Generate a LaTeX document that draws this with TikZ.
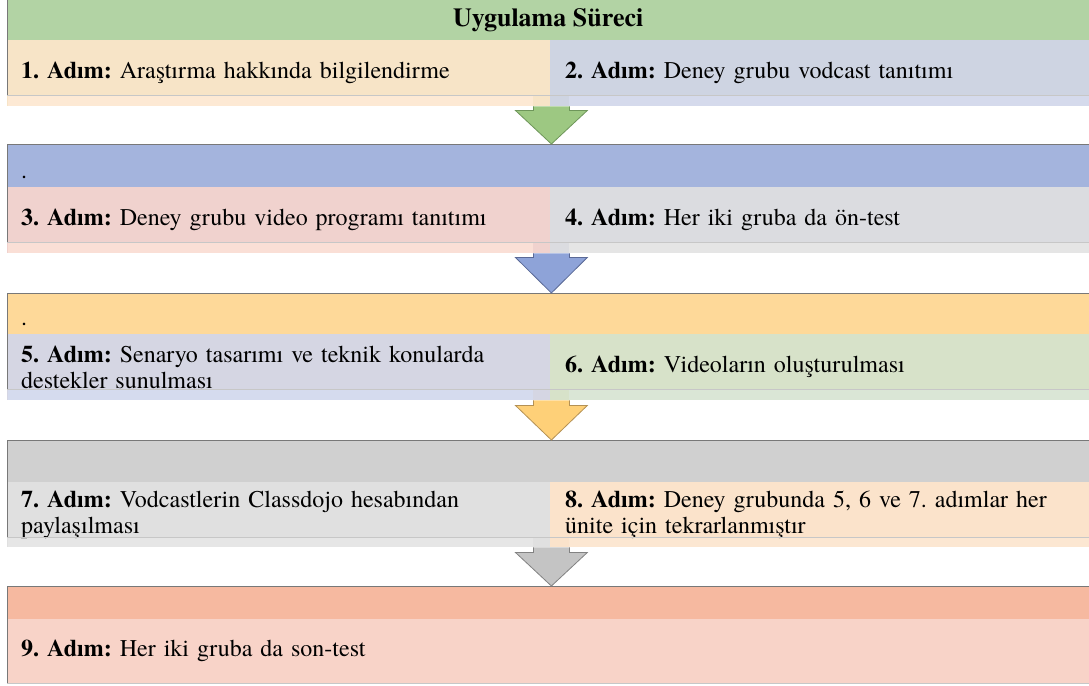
\documentclass[tikz,border=0pt]{standalone}
\usepackage{fontspec}
\setmainfont{texgyretermes}[Extension=.otf, UprightFont=*-regular, BoldFont=*-bold,
  ItalicFont=*-italic, BoldItalicFont=*-bolditalic]
\usetikzlibrary{calc,backgrounds}

\newlength{\du}
\setlength{\du}{1pt}

\definecolor{headgreen}{rgb}{0.698000, 0.827000, 0.643000}
\definecolor{arrowgreen}{rgb}{0.616000, 0.784000, 0.510000}
\definecolor{arrowgreenline}{rgb}{0.431000, 0.588000, 0.353000}
\definecolor{cellone}{rgb}{0.969000, 0.894000, 0.780000}
\definecolor{stripone}{rgb}{0.992000, 0.914000, 0.831000}
\definecolor{celltwo}{rgb}{0.808000, 0.831000, 0.886000}
\definecolor{striptwo}{rgb}{0.835000, 0.855000, 0.925000}
\definecolor{barblue}{rgb}{0.643000, 0.706000, 0.867000}
\definecolor{arrowblue}{rgb}{0.557000, 0.639000, 0.847000}
\definecolor{arrowblueline}{rgb}{0.353000, 0.412000, 0.588000}
\definecolor{cellthree}{rgb}{0.941000, 0.824000, 0.808000}
\definecolor{stripthree}{rgb}{0.980000, 0.875000, 0.839000}
\definecolor{cellfour}{rgb}{0.859000, 0.863000, 0.878000}
\definecolor{stripfour}{rgb}{0.898000, 0.898000, 0.898000}
\definecolor{baryellow}{rgb}{0.996000, 0.851000, 0.600000}
\definecolor{arrowyellow}{rgb}{0.996000, 0.816000, 0.471000}
\definecolor{arrowyellowline}{rgb}{0.706000, 0.569000, 0.333000}
\definecolor{cellfive}{rgb}{0.835000, 0.839000, 0.890000}
\definecolor{stripfive}{rgb}{0.835000, 0.859000, 0.933000}
\definecolor{cellsix}{rgb}{0.843000, 0.886000, 0.788000}
\definecolor{stripsix}{rgb}{0.855000, 0.902000, 0.839000}
\definecolor{bargray}{rgb}{0.816000, 0.816000, 0.816000}
\definecolor{arrowgray}{rgb}{0.769000, 0.769000, 0.769000}
\definecolor{arrowgrayline}{rgb}{0.510000, 0.510000, 0.510000}
\definecolor{cellseven}{rgb}{0.878000, 0.878000, 0.878000}
\definecolor{stripseven}{rgb}{0.902000, 0.902000, 0.902000}
\definecolor{celleight}{rgb}{0.984000, 0.890000, 0.796000}
\definecolor{stripeight}{rgb}{0.988000, 0.906000, 0.824000}
\definecolor{barsalmon}{rgb}{0.965000, 0.725000, 0.627000}
\definecolor{cellnine}{rgb}{0.973000, 0.827000, 0.784000}
\definecolor{framegray}{rgb}{0.471000, 0.471000, 0.471000}
\definecolor{edgegray}{rgb}{0.780000, 0.780000, 0.780000}

\frenchspacing
\begin{document}
\begin{tikzpicture}[
  font=\fontsize{24}{25.5}\selectfont,
  barbox/.style={rectangle, anchor=north west, inner sep=0pt, minimum width=1082\du},
  leftbox/.style={rectangle, anchor=north west, inner xsep=14\du, inner ysep=0pt,
    text width=515\du, minimum height=66\du, align=left},
  rightbox/.style={rectangle, anchor=north west, inner xsep=15\du, inner ysep=0pt,
    text width=509\du, minimum height=66\du, align=left},
  bandframe/.style={draw=framegray, line width=1\du},
  blockarrow/.style={line width=0.8\du, line join=miter}
]
\pgftransformxscale{1.000000}
\pgftransformyscale{-1.000000}
\useasboundingbox (0\du,0\du) rectangle (1089\du,685\du);

% band 1
\node[barbox, fill=headgreen, minimum height=40\du, font=\fontsize{26}{27}\selectfont] (bar1) at (7\du,0\du) {\textbf{Uygulama Süreci}};
\node[leftbox] (adim1) at (7\du,40\du) {\textbf{1. Adım:} Araştırma hakkında bilgilendirme};
\node[rightbox] (adim2) at (550\du,40\du) {\textbf{2. Adım:} Deney grubu vodcast tanıtımı};
\draw[bandframe] ($(adim1.south west)+(0,-11\du)$) -- (bar1.north west) -- ++(1083\du,0);
\draw[edgegray] (adim1.south west) ++(0,-11\du) -- ++(1083\du,0);

% band 2
\node[barbox, fill=barblue, minimum height=43\du] (bar2) at (7\du,144\du) {};
\node[anchor=base west, inner sep=0pt] (nokta2) at (21\du,178\du) {.};
\node[leftbox] (adim3) at (7\du,187\du) {\textbf{3. Adım:} Deney grubu video programı tanıtımı};
\node[rightbox] (adim4) at (550\du,187\du) {\textbf{4. Adım:} Her iki gruba da ön-test};
\draw[bandframe] ($(adim3.south west)+(0,-11\du)$) -- (bar2.north west) -- ++(1083\du,0);
\draw[edgegray] (adim3.south west) ++(0,-11\du) -- ++(1083\du,0);

% band 3
\node[barbox, fill=baryellow, minimum height=41\du] (bar3) at (7\du,293\du) {};
\node[anchor=base west, inner sep=0pt] (nokta3) at (21\du,325\du) {.};
\node[leftbox] (adim5) at (7\du,334\du) {\textbf{5. Adım:} Senaryo tasarımı ve teknik konularda\\destekler sunulması};
\node[rightbox] (adim6) at (550\du,334\du) {\textbf{6. Adım:} Videoların oluşturulması};
\draw[bandframe] ($(adim5.south west)+(0,-11\du)$) -- (bar3.north west) -- ++(1083\du,0);
\draw[edgegray] (adim5.south west) ++(0,-11\du) -- ++(1083\du,0);

% band 4
\node[barbox, fill=bargray, minimum height=42\du] (bar4) at (7\du,440\du) {};
\node[leftbox, minimum height=65\du] (adim7) at (7\du,482\du) {\textbf{7. Adım:} Vodcastlerin Classdojo hesabından\\paylaşılması};
\node[rightbox, minimum height=65\du] (adim8) at (550\du,482\du) {\textbf{8. Adım:} Deney grubunda 5, 6 ve 7. adımlar her\\ünite için tekrarlanmıştır};
\draw[bandframe] ($(adim7.south west)+(0,-10\du)$) -- (bar4.north west) -- ++(1083\du,0);
\draw[edgegray] (adim7.south west) ++(0,-10\du) -- ++(1083\du,0);

% band 5
\node[barbox, fill=barsalmon, minimum height=33\du] (bar5) at (7\du,586\du) {};
\node[leftbox, text width=1054\du, minimum height=64\du] (adim9) at (7\du,619\du) {\textbf{9. Adım:} Her iki gruba da son-test};
\draw[bandframe] (adim9.south west) -- (bar5.north west) -- ++(1083\du,0);
\draw[edgegray] (adim9.south west) -- ++(1083\du,0);

\begin{pgfonlayer}{background}
\fill[cellone] (adim1.north west) rectangle (adim1.south east);
\fill[celltwo] (adim2.north west) rectangle (adim2.south east);
\fill[stripone] ($(adim1.south west)+(1\du,-11\du)$) rectangle ($(adim1.south east)+(-17\du,0)$);
\fill[striptwo] ($(adim2.south west)+(19\du,-11\du)$) rectangle (adim2.south east);
\fill[cellthree] (adim3.north west) rectangle (adim3.south east);
\fill[cellfour] (adim4.north west) rectangle (adim4.south east);
\fill[stripthree] ($(adim3.south west)+(1\du,-11\du)$) rectangle ($(adim3.south east)+(-17\du,0)$);
\fill[stripfour] ($(adim4.south west)+(19\du,-11\du)$) rectangle (adim4.south east);
\fill[cellfive] (adim5.north west) rectangle (adim5.south east);
\fill[cellsix] (adim6.north west) rectangle (adim6.south east);
\fill[stripfive] ($(adim5.south west)+(1\du,-11\du)$) rectangle ($(adim5.south east)+(-17\du,0)$);
\fill[stripsix] ($(adim6.south west)+(19\du,-11\du)$) rectangle (adim6.south east);
\fill[cellseven] (adim7.north west) rectangle (adim7.south east);
\fill[celleight] (adim8.north west) rectangle (adim8.south east);
\fill[stripseven] ($(adim7.south west)+(1\du,-10\du)$) rectangle ($(adim7.south east)+(-17\du,0)$);
\fill[stripeight] ($(adim8.south west)+(19\du,-10\du)$) rectangle (adim8.south east);
\fill[cellnine] (adim9.north west) rectangle (adim9.south east);
\end{pgfonlayer}

% arrows
\filldraw[blockarrow, fill=arrowgreen, draw=arrowgreenline]
  ($(adim1.south east)+(-17\du,0)$) -- ($(adim1.south east)+(-17\du,4\du)$)
  -- ($(adim1.south east)+(-35\du,4\du)$) -- ($(adim1.south east |- bar2.north)+(1\du,0)$)
  -- ($(adim1.south east)+(37\du,4\du)$) -- ($(adim1.south east)+(19\du,4\du)$)
  -- ($(adim1.south east)+(19\du,0)$);
\filldraw[blockarrow, fill=arrowblue, draw=arrowblueline]
  ($(adim3.south east)+(-17\du,0)$) -- ($(adim3.south east)+(-17\du,4\du)$)
  -- ($(adim3.south east)+(-35\du,4\du)$) -- ($(adim3.south east |- bar3.north)+(1\du,0)$)
  -- ($(adim3.south east)+(37\du,4\du)$) -- ($(adim3.south east)+(19\du,4\du)$)
  -- ($(adim3.south east)+(19\du,0)$);
\filldraw[blockarrow, fill=arrowyellow, draw=arrowyellowline]
  ($(adim5.south east)+(-17\du,0)$) -- ($(adim5.south east)+(-17\du,5\du)$)
  -- ($(adim5.south east)+(-35\du,5\du)$) -- ($(adim5.south east |- bar4.north)+(1\du,0)$)
  -- ($(adim5.south east)+(37\du,5\du)$) -- ($(adim5.south east)+(19\du,5\du)$)
  -- ($(adim5.south east)+(19\du,0)$);
\filldraw[blockarrow, fill=arrowgray, draw=arrowgrayline]
  ($(adim7.south east)+(-17\du,0)$) -- ($(adim7.south east)+(-17\du,5\du)$)
  -- ($(adim7.south east)+(-35\du,5\du)$) -- ($(adim7.south east |- bar5.north)+(1\du,0)$)
  -- ($(adim7.south east)+(37\du,5\du)$) -- ($(adim7.south east)+(19\du,5\du)$)
  -- ($(adim7.south east)+(19\du,0)$);
\end{tikzpicture}
\end{document}
